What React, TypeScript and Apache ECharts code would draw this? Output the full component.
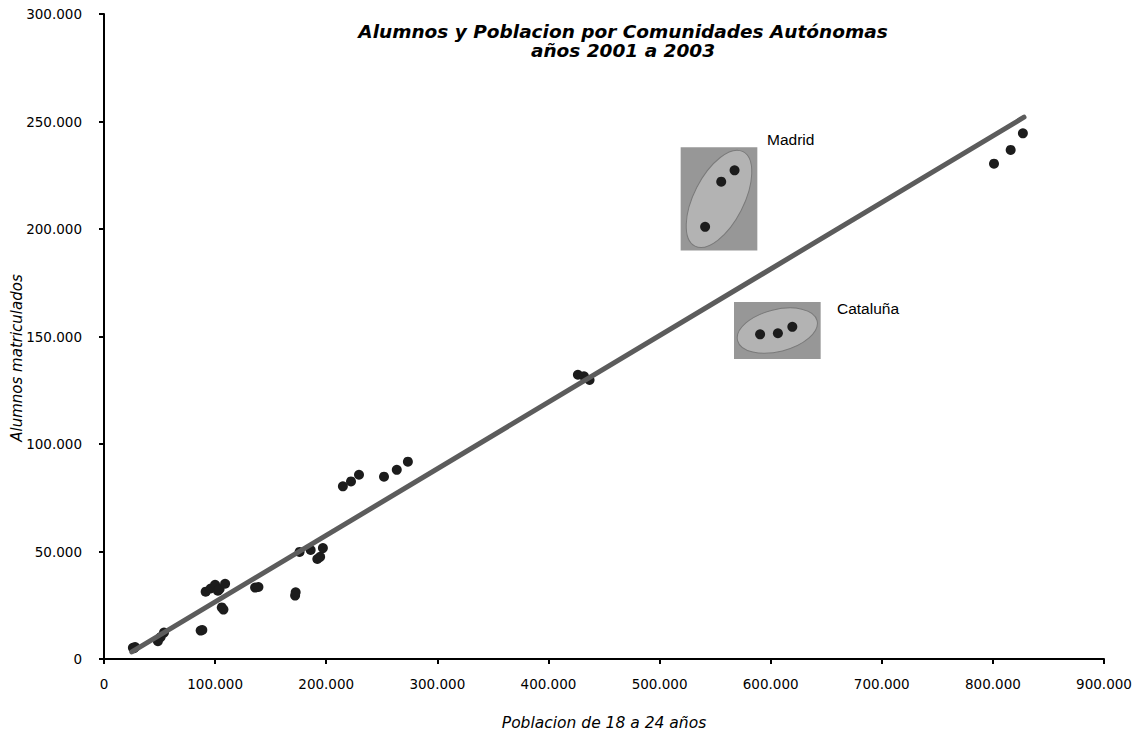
import React, { useEffect, useRef } from "react";
import * as echarts from "echarts";

// Población de 18 a 24 años (x) y alumnos matriculados (y), años 2001-2003
const POBLACION = [
  26000, 27000, 28000, 48500, 51000, 54000, 87000, 88500, 91500, 96000,
  100000, 102500, 104000, 106000, 107500, 109000, 136000, 139000, 172000, 172500,
  176000, 186000, 192000, 194500, 197000, 215000, 222300, 229500, 252000, 263500,
  273500, 426500, 432000, 437000, 541000, 555500, 567500, 590500, 606500, 619500,
  801000, 816000, 827000,
];
const ALUMNOS = [
  5200, 5000, 5600, 8300, 10200, 12300, 13200, 13500, 31300, 32800,
  34500, 31800, 32500, 24000, 23000, 35000, 33200, 33500, 29500, 31000,
  49800, 50700, 46500, 47500, 51600, 80300, 82600, 85700, 84800, 88000,
  91800, 132200, 131500, 129800, 201000, 222000, 227300, 151000, 151500, 154500,
  230400, 236800, 244500,
];

// Recta de tendencia (extremos)
const TREND_X = [25000, 828000];
const TREND_Y = [3300, 252000];

// Ejes
const X_MAX = 900000;
const X_STEP = 100000;
const Y_MAX = 300000;
const Y_STEP = 50000;

// Anotaciones (recuadros en coordenadas de datos)
const ANNOT_NAMES = ["Madrid", "Cataluña"];
const ANNOT_BOX = [
  [519000, 190000, 588000, 238000],
  [567000, 139500, 645000, 166000],
];
const ANNOT_LABEL_AT = [
  [596700, 241800],
  [659700, 162800],
];
const ANNOT_ELLIPSE = [
  { rx: 53, ry: 25, rot: 63 },
  { rx: 41, ry: 21, rot: 14 },
];

const fmt = (v: number) =>
  String(Math.round(v)).replace(/\B(?=(\d{3})+(?!\d))/g, ".");

export default function App() {
  const ref = useRef<HTMLDivElement>(null);
  useEffect(() => {
    if (!ref.current) return;
    const chart = echarts.init(ref.current, null, { renderer: "svg" });
    const points = POBLACION.map((x, i) => [x, ALUMNOS[i]]);
    const trend = TREND_X.map((x, i) => [x, TREND_Y[i]]);
    const annData = ANNOT_BOX.map((b, i) => ({
      name: ANNOT_NAMES[i],
      value: [b[0], b[1], b[2], b[3], ANNOT_LABEL_AT[i][0], ANNOT_LABEL_AT[i][1]],
    }));
    const font = "DejaVu Sans";
    chart.setOption({
      animation: false,
      backgroundColor: "#ffffff",
      title: {
        text: "Alumnos y Poblacion por Comunidades Autónomas\naños 2001 a 2003",
        left: 618,
        top: 17,
        textAlign: "center",
        textStyle: {
          fontFamily: font,
          fontSize: 18.5,
          fontWeight: "bold",
          fontStyle: "italic",
          color: "#000",
          lineHeight: 19,
        },
      },
      graphic: [
        {
          type: "text",
          x: 17,
          y: 358,
          rotation: Math.PI / 2,
          style: {
            text: "Alumnos matriculados",
            fontFamily: font,
            fontSize: 15,
            fontStyle: "italic",
            fill: "#000",
            align: "center",
            verticalAlign: "middle",
          },
        },
      ],
      grid: { left: 104, right: 33, top: 14, bottom: 76, containLabel: false, outerBoundsMode: "none" },
      xAxis: {
        type: "value",
        min: 0,
        max: X_MAX,
        interval: X_STEP,
        name: "Poblacion de 18 a 24 años",
        nameLocation: "middle",
        nameGap: 56,
        nameTextStyle: {
          fontFamily: font,
          fontSize: 15.5,
          fontStyle: "italic",
          color: "#000",
        },
        axisLine: { lineStyle: { color: "#000", width: 2 } },
        axisTick: { show: true, length: 5, lineStyle: { color: "#000", width: 2 } },
        axisLabel: {
          fontFamily: font,
          fontSize: 13.5,
          color: "#000",
          margin: 18,
          formatter: fmt,
        },
        splitLine: { show: false },
      },
      yAxis: {
        type: "value",
        min: 0,
        max: Y_MAX,
        interval: Y_STEP,
        axisLine: { show: true, lineStyle: { color: "#000", width: 2 } },
        axisTick: { show: true, length: 5, lineStyle: { color: "#000", width: 2 } },
        axisLabel: {
          fontFamily: font,
          fontSize: 13.5,
          color: "#000",
          margin: 22,
          formatter: fmt,
        },
        splitLine: { show: false },
      },
      series: [
        {
          type: "custom",
          z: 1,
          silent: true,
          data: annData,
          renderItem: (params: any, api: any) => {
            const e = ANNOT_ELLIPSE[params.dataIndex];
            const p0 = api.coord([api.value(0), api.value(1)]);
            const p1 = api.coord([api.value(2), api.value(3)]);
            const x = Math.min(p0[0], p1[0]);
            const y = Math.min(p0[1], p1[1]);
            const w = Math.abs(p1[0] - p0[0]);
            const h = Math.abs(p1[1] - p0[1]);
            const lp = api.coord([api.value(4), api.value(5)]);
            return {
              type: "group",
              children: [
                { type: "rect", shape: { x, y, width: w, height: h }, style: { fill: "#979797" } },
                {
                  type: "ellipse",
                  x: x + w / 2,
                  y: y + h / 2,
                  rotation: (e.rot * Math.PI) / 180,
                  shape: { cx: 0, cy: 0, rx: e.rx, ry: e.ry },
                  style: { fill: "#b3b3b3", stroke: "#7a7a7a", lineWidth: 1 },
                },
                {
                  type: "text",
                  x: lp[0],
                  y: lp[1],
                  style: {
                    text: ANNOT_NAMES[params.dataIndex],
                    fontFamily: "Liberation Sans",
                    fontSize: 15.5,
                    fill: "#000",
                    align: "left",
                    verticalAlign: "middle",
                  },
                },
              ],
            };
          },
        },
        {
          type: "scatter",
          z: 2,
          data: points,
          symbol: "circle",
          symbolSize: 10,
          itemStyle: { color: "#1c1c1c", opacity: 1 },
        },
        {
          type: "line",
          z: 3,
          data: trend,
          showSymbol: false,
          symbol: "none",
          lineStyle: { color: "#5c5c5c", width: 5, cap: "round" },
        },
      ],
    });
    return () => chart.dispose();
  }, []);
  return (
    <div
      ref={ref}
      style={{ position: "fixed", left: 0, top: 0, width: 1137, height: 735 }}
    />
  );
}
